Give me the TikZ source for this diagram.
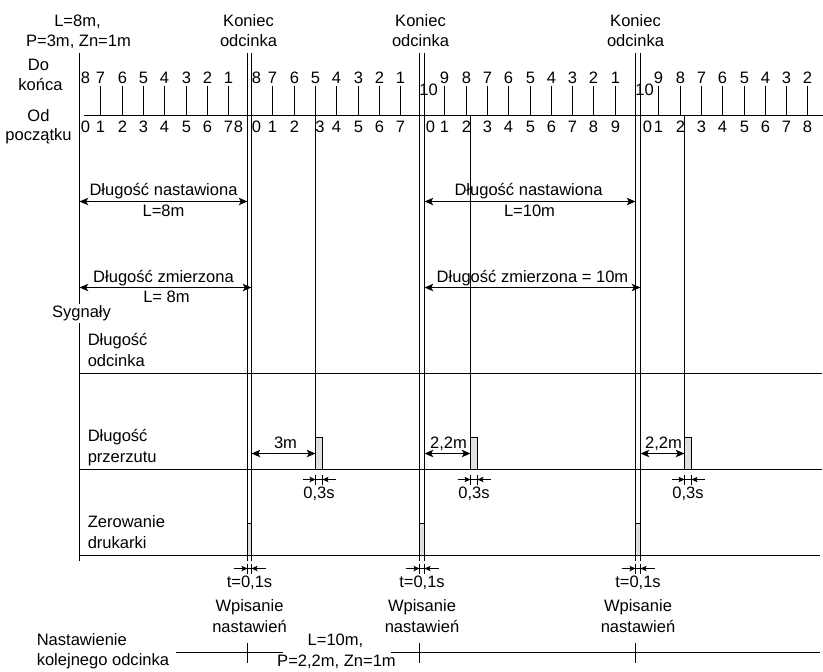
\documentclass[tikz,border=0pt]{standalone}
\usepackage{fontspec}
\setmainfont{Liberation Sans}
\usetikzlibrary{arrows.meta}
\begin{document}
\begin{tikzpicture}[x=0.75pt,y=-0.75pt,
  ln/.style={line width=1.1pt},
  txt/.style={inner sep=0pt,anchor=base,font=\fontsize{12.4}{15}\selectfont},
  ltxt/.style={txt,anchor=base west},
  dimarrow/.style={ln,{Stealth[length=6.5pt,width=5.5pt,inset=1.5pt]}-{Stealth[length=6.5pt,width=5.5pt,inset=1.5pt]}},
  smallarrow/.style={line width=0.9pt,-{Stealth[length=4.5pt,width=4pt,inset=1pt]}},
  pulsebox/.style={ln,fill=black!12},
]
\useasboundingbox (0,0) rectangle (823,671);
\begin{scope}[shift={(0.5,0.5)}]
% ---------- header texts ----------
\node[txt] (hdrL) at (77,26) {L=8m,};
\node[txt] (hdrP) at (78,46) {P=3m, Zn=1m};
\foreach \xx/\nm in {248/a,420/b,635/c}{
  \node[txt] (kon\nm) at (\xx,26) {Koniec};
  \node[txt] (odc\nm) at (\xx,46) {odcinka};
}
\node[txt] (doA) at (38,70) {Do};
\node[txt] (doB) at (40,90) {końca};
\node[txt] (odA) at (38,121) {Od};
\node[txt] (odB) at (38,140) {początku};

% ---------- main vertical lines ----------
\coordinate (Ltop) at (79,52); \coordinate (Lbot) at (79,560);
\draw[ln] (Ltop) -- (Lbot);
\foreach \xx in {247,251,419,424,635,640}{
  \draw[ln] (\xx,52) -- (\xx,560);
}

% ---------- ruler ----------
\draw[ln] (83,115) -- (823,115);
% segment 1 (origin 79)
\node[txt] (s1t0) at (85,83) {8};
\node[txt] (s1b0) at (85,132) {0};
\node[txt] (s1b8) at (238,132) {8};
\foreach \k in {1,...,7}{
  \pgfmathsetmacro\xx{round(79+21.3*\k)}
  \pgfmathtruncatemacro\lbl{8-\k}
  \draw[ln] (\xx,85) -- (\xx,115);
  \node[txt] (s1t\k) at (\xx,83) {\lbl};
  \node[txt] (s1b\k) at (\xx,132) {\k};
}
% segment 2 (origin 251)
\node[txt] (s2t0) at (256,83) {8};
\node[txt] (s2b0) at (256,132) {0};
\foreach \k in {1,...,7}{
  \pgfmathsetmacro\xx{round(251+21.3*\k)}
  \pgfmathtruncatemacro\lbl{8-\k}
  \draw[ln] (\xx,85) -- (\xx,115);
  \node[txt] (s2t\k) at (\xx,83) {\lbl};
}
\foreach \k in {1,2,4,5,6,7}{
  \pgfmathsetmacro\xx{round(251+21.3*\k)}
  \node[txt] (s2b\k) at (\xx,132) {\k};
}
\node[txt] (s2b3) at (319.5,132) {3};
% segment 3 (origin 423)
\node[txt] (s3t0) at (428,95) {10};
\node[txt] (s3b0) at (430,132) {0};
\foreach \k in {1,...,9}{
  \pgfmathsetmacro\xx{round(423+21.3*\k)}
  \pgfmathtruncatemacro\lbl{10-\k}
  \draw[ln] (\xx,85) -- (\xx,115);
  \node[txt] (s3t\k) at (\xx,83) {\lbl};
  \node[txt] (s3b\k) at (\xx,132) {\k};
}
% segment 4 (origin 637)
\node[txt] (s4t0) at (644,95) {10};
\node[txt] (s4b0) at (647,132) {0};
\foreach \k in {1,...,8}{
  \pgfmathsetmacro\xx{round(637+21.3*\k)}
  \pgfmathtruncatemacro\lbl{10-\k}
  \draw[ln] (\xx,85) -- (\xx,115);
  \node[txt] (s4t\k) at (\xx,83) {\lbl};
  \node[txt] (s4b\k) at (\xx,132) {\k};
}

% ---------- long P lines ----------
\draw[ln] (315,85) -- (315,469);
\draw[ln] (470,115) -- (470,469);
\draw[ln] (684,115) -- (684,469);

% ---------- length arrows ----------
\coordinate (n1a) at (79,201); \coordinate (n1b) at (247,201);
\draw[dimarrow] (n1a) -- (n1b);
\node[txt] (n1t) at (163,195) {Długość nastawiona};
\node[txt] (n1l) at (163,216) {L=8m};
\coordinate (z1a) at (79,287); \coordinate (z1b) at (251,287);
\draw[dimarrow] (z1a) -- (z1b);
\node[txt] (z1t) at (163,282) {Długość zmierzona};
\node[txt] (z1l) at (166,302) {L= 8m};
\coordinate (n3a) at (424,201); \coordinate (n3b) at (635,201);
\draw[dimarrow] (n3a) -- (n3b);
\node[txt] (n3t) at (528,195) {Długość nastawiona};
\node[txt] (n3l) at (529,216) {L=10m};
\coordinate (z3a) at (424,287); \coordinate (z3b) at (640,287);
\draw[dimarrow] (z3a) -- (z3b);
\node[txt] (z3t) at (532,282) {Długość zmierzona = 10m};

% ---------- signals ----------
\node[txt,fill=white,inner sep=1.5pt] (syg) at (81,317) {Sygnały};
\node[ltxt] (sgA1) at (87,345) {Długość};
\node[ltxt] (sgA2) at (87,366) {odcinka};
\draw[ln] (79,373) -- (821,373);
\node[ltxt] (sgB1) at (87,441) {Długość};
\node[ltxt] (sgB2) at (87,462) {przerzutu};
\draw[ln] (79,469) -- (821,469);
\node[ltxt] (sgC1) at (87,527) {Zerowanie};
\node[ltxt] (sgC2) at (87,548) {drukarki};
\draw[ln] (79,555) -- (819,555);

% przerzut pulses, distances and widths
\foreach \p/\s/\lx/\lab in {315/251/285/3m, 470/424/448/{2,2m}, 684/640/663/{2,2m}}{
  \draw[pulsebox] (\p,437) rectangle ({\p+7},469);
  \draw[dimarrow] (\s,453) -- (\p,453);
  \node[txt] at (\lx,448) {\lab};
  \draw[line width=0.9pt] (\p,474) -- (\p,484);
  \draw[line width=0.9pt] ({\p+7},474) -- ({\p+7},484);
  \draw[line width=0.9pt] (\p,479) -- ({\p+7},479);
  \draw[smallarrow] ({\p-13},479) -- (\p,479);
  \draw[smallarrow] ({\p+20},479) -- ({\p+7},479);
  \node[txt] at ({\p+3.5},498) {0,3s};
}

% zerowanie pulses and t=0,1s
\foreach \a/\b in {247/251,419/424,635/640}{
  \draw[pulsebox] (\a,523) rectangle (\b,555);
  \draw[line width=0.9pt] (\a,563) -- (\a,573);
  \draw[line width=0.9pt] (\b,563) -- (\b,573);
  \draw[line width=0.9pt] (\a,568) -- (\b,568);
  \draw[smallarrow] ({\a-14},568) -- (\a,568);
  \draw[smallarrow] ({\b+14},568) -- (\b,568);
  \node[txt] at ({(\a+\b)/2},587) {t=0,1s};
  \node[txt] at ({(\a+\b)/2},611) {Wpisanie};
  \node[txt] at ({(\a+\b)/2},632) {nastawień};
}

% ---------- bottom: next segment setting ----------
\node[ltxt] (nk1) at (36,645) {Nastawienie};
\node[ltxt] (nk2) at (36,665) {kolejnego odcinka};
\draw[ln] (175,652) -- (282,652);
\draw[ln] (247,642) -- (247,662);
\node[txt] (nl1) at (335,645) {L=10m,};
\node[txt] (nl2) at (336,666) {P=2,2m, Zn=1m};
\draw[ln] (390,652) -- (819,652);
\draw[ln] (419,642) -- (419,662);
\draw[ln] (635,642) -- (635,662);
\end{scope}
\end{tikzpicture}
\end{document}
